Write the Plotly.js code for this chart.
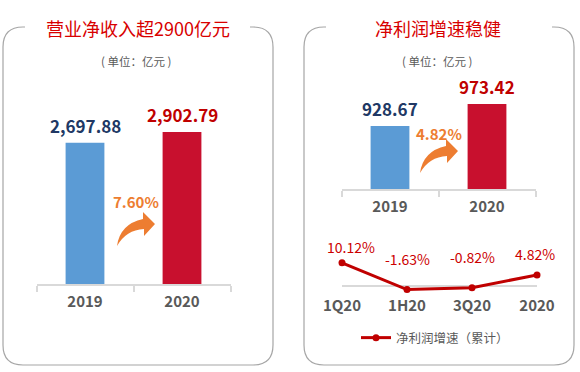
<!DOCTYPE html>
<html><head><meta charset="utf-8">
<script src="https://cdn.plot.ly/plotly-3.0.1.min.js"></script>
<style>html,body{margin:0;padding:0;background:#fff}#chart{width:580px;height:372px}</style>
</head><body><div id="chart"></div>
<script>
// ---- data ----
const years = ['2019', '2020'];
const revenue = [2697.88, 2902.79];
const revenueLabels = ['2,697.88', '2,902.79'];
const profit = [928.67, 973.42];
const profitLabels = ['928.67', '973.42'];
const quarters = ['1Q20', '1H20', '3Q20', '2020'];
const growth = [10.12, -1.63, -0.82, 4.82];
const growthLabels = ['10.12%', '-1.63%', '-0.82%', '4.82%'];
const revenueGrowthText = '7.60%';
const profitGrowthText = '4.82%';
const leftTitle = '营业净收入超2900亿元';
const rightTitle = '净利润增速稳健';
const unitText = '( 单位：亿元 )';
const lineName = '净利润增速（累计）';

// ---- styles ----
const W = 580, H = 372;
const FONT = '"Noto Sans CJK SC", "Noto Sans", sans-serif';
const barColors = ['#5b9bd5', '#c8102e'];
const valueColors = ['#203864', '#c00000'];
const orange = '#ed7d31';
const grey = '#595959';
const axisGrey = '#d9d9d9';
const lineRed = '#c00000';
const px = x => x / W;
const py = y => 1 - y / H;

function pathFrom(pts, ox, oy) {
  return pts.map(p => {
    if (p.length === 1) return p[0];
    let s = p[0];
    for (let i = 1; i < p.length; i += 2) {
      s += ' ' + px(ox + p[i]).toFixed(5) + ',' + py(oy + p[i + 1]).toFixed(5);
    }
    return s;
  }).join(' ');
}
const arrowTpl = [['M', 0, 0], ['Q', 3, -22, 26, -27], ['L', 26, -34], ['L', 38, -22], ['L', 27, -10], ['L', 27, -17], ['Q', 9, -16, 0, 0], ['Z']];

function panelPath(x0, x1, y0, y1, gapL, gapR, r) {
  return [['M', gapL, y0], ['L', x0 + r, y0], ['Q', x0, y0, x0, y0 + r], ['L', x0, y1 - r], ['Q', x0, y1, x0 + r, y1],
          ['L', x1 - r, y1], ['Q', x1, y1, x1, y1 - r], ['L', x1, y0 + r], ['Q', x1, y0, x1 - r, y0], ['L', gapR, y0]];
}

const traces = [
  { type: 'bar', x: years, y: revenue, xaxis: 'x', yaxis: 'y', marker: { color: barColors }, width: 0.4, showlegend: false, hoverinfo: 'skip' },
  { type: 'bar', x: years, y: profit, xaxis: 'x2', yaxis: 'y2', marker: { color: barColors }, width: 0.4, showlegend: false, hoverinfo: 'skip' },
  { type: 'scatter', mode: 'lines+markers', x: quarters, y: growth, xaxis: 'x3', yaxis: 'y3', name: lineName,
    line: { color: lineRed, width: 3 }, marker: { color: lineRed, size: 7 }, cliponaxis: false, hoverinfo: 'skip' }
];

const catAxis = (dom, anchor) => ({
  domain: dom, anchor: anchor, type: 'category', range: [-0.5, 1.5],
  showline: true, linecolor: axisGrey, linewidth: 2,
  ticks: 'outside', tickson: 'boundaries', ticklen: 6, tickwidth: 2, tickcolor: axisGrey, ticklabelstandoff: 3,
  tickfont: { family: FONT, size: 15, color: grey, weight: 'bold' },
  showgrid: false, zeroline: false, fixedrange: true
});

const annotations = [];
const boldNum = (c, s) => ({ family: FONT, size: s, color: c, weight: 'bold' });
years.forEach((yr, i) => {
  annotations.push({ x: i, y: revenue[i], xref: 'x', yref: 'y', xanchor: 'center', yanchor: 'bottom', yshift: 3, showarrow: false,
    text: revenueLabels[i], font: boldNum(valueColors[i], 17) });
  annotations.push({ x: i, y: profit[i], xref: 'x2', yref: 'y2', xanchor: 'center', yanchor: 'bottom', yshift: 3, showarrow: false,
    text: profitLabels[i], font: boldNum(valueColors[i], 17) });
});
const lblShiftY = [4, 19, 19, 9];
const lblShiftX = [9, 0, 0, -2];
quarters.forEach((q, i) => {
  annotations.push({ x: i, y: growth[i], xref: 'x3', yref: 'y3', xanchor: 'center', yanchor: 'bottom', yshift: lblShiftY[i], xshift: lblShiftX[i],
    showarrow: false, text: growthLabels[i], font: { family: FONT, size: 14, color: '#cc0000' } });
});
const paperNote = (x, y, text, font) => ({ x: px(x), y: py(y), xref: 'paper', yref: 'paper', xanchor: 'center', yanchor: 'middle', showarrow: false, text: text, font: font });
annotations.push(
  paperNote(138, 28, leftTitle, { family: FONT, size: 18, color: '#d80000' }),
  paperNote(438, 28, rightTitle, { family: FONT, size: 18, color: '#d80000' }),
  paperNote(136, 61, unitText, { family: FONT, size: 11.5, color: grey }),
  paperNote(437, 61, unitText, { family: FONT, size: 11.5, color: grey }),
  paperNote(136, 201, revenueGrowthText, boldNum(orange, 15)),
  paperNote(439, 133, profitGrowthText, boldNum(orange, 15))
);

const shapes = [
  { type: 'path', xref: 'paper', yref: 'paper', path: pathFrom(panelPath(3, 273, 27, 365, 25, 250, 20), 0, 0), line: { color: '#a6a6a6', width: 1.2 } },
  { type: 'path', xref: 'paper', yref: 'paper', path: pathFrom(panelPath(304, 574, 27, 365, 326, 552, 20), 0, 0), line: { color: '#a6a6a6', width: 1.2 } },
  { type: 'path', xref: 'paper', yref: 'paper', path: pathFrom(arrowTpl, 117, 246), fillcolor: orange, line: { width: 0 } },
  { type: 'path', xref: 'paper', yref: 'paper', path: pathFrom(arrowTpl, 420, 173), fillcolor: orange, line: { width: 0 } }
];

const layout = {
  width: W, height: H, margin: { l: 0, r: 0, t: 0, b: 0 },
  paper_bgcolor: '#ffffff', plot_bgcolor: 'rgba(0,0,0,0)',
  font: { family: FONT, color: grey },
  xaxis: catAxis([px(36.5), px(230.5)], 'y'),
  yaxis: { domain: [py(284), py(127)], range: [0, 3000], visible: false, fixedrange: true },
  xaxis2: catAxis([px(341.5), px(535.5)], 'y2'),
  yaxis2: { domain: [py(189), py(91)], range: [800, 1000], visible: false, fixedrange: true },
  xaxis3: { domain: [px(342), px(537)], anchor: 'y3', type: 'category', range: [0, 3], showline: false, ticks: '',
    showgrid: false, zeroline: false, tickfont: { family: FONT, size: 15, color: grey, weight: 'bold' }, fixedrange: true },
  yaxis3: { domain: [py(295), py(254)], range: [-4, 14], showticklabels: false, showgrid: false, showline: false, ticks: '',
    zeroline: true, zerolinecolor: axisGrey, zerolinewidth: 2, fixedrange: true },
  showlegend: true,
  legend: { x: px(356), y: py(338), xanchor: 'left', yanchor: 'middle', orientation: 'h', bgcolor: 'rgba(0,0,0,0)',
    font: { family: FONT, size: 12.5, color: grey } },
  annotations: annotations,
  shapes: shapes
};

Plotly.newPlot('chart', traces, layout, { staticPlot: true, displayModeBar: false });
</script></body></html>
